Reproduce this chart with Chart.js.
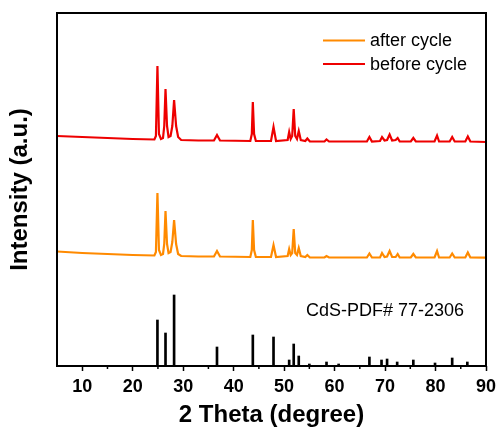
<!DOCTYPE html>
<html>
<head>
<meta charset="utf-8">
<script src="https://cdn.jsdelivr.net/npm/chart.js@4.4.0/dist/chart.umd.min.js"></script>
<style>
  html, body { margin: 0; padding: 0; background: #fff; }
  #wrap { width: 497px; height: 432px; position: relative; }
</style>
</head>
<body>
<div id="wrap"><canvas id="xrdChart"></canvas></div>
<script>
// x tick labels (2 Theta, degree)
const xTicks = [10, 20, 30, 40, 50, 60, 70, 80, 90];
const xMinorTicks = [15, 25, 35, 45, 55, 65, 75, 85];

// before cycle pattern, [2theta, intensity] (offset upwards)
const beforeCycle = [
    [5, 230], [10, 229], [15, 228], [20, 227], [24.3, 226.5], [24.6, 230], [24.9, 300], [25.2, 232],
    [25.6, 227], [26.0, 228], [26.25, 240], [26.5, 277], [26.8, 240], [27.1, 229], [27.5, 230],
    [27.85, 240], [28.2, 266], [28.6, 240], [29.0, 229], [29.6, 226], [33, 225.5], [36.1, 225.5],
    [36.7, 231], [37.3, 225.5], [43.3, 225], [43.6, 232], [43.8, 264], [44.05, 232], [44.4, 225],
    [47.4, 225], [47.9, 239], [48.4, 225], [50.7, 226], [51.0, 234], [51.3, 227], [51.6, 230],
    [51.9, 257], [52.2, 230], [52.55, 227], [52.9, 235], [53.3, 226], [54.2, 225], [54.6, 227.5],
    [55.1, 224.5], [58, 224.5], [58.4, 226.5], [58.9, 224.5], [66.4, 224.5], [66.9, 229], [67.4, 224.5],
    [69.0, 225], [69.4, 229], [69.9, 225.5], [70.4, 226], [70.9, 231.5], [71.4, 225.5], [72.1, 226],
    [72.5, 228], [72.9, 224.5], [75.1, 224.5], [75.6, 228], [76.1, 224.5], [79.8, 224.5], [80.3, 230.5],
    [80.7, 224.5], [82.8, 224.5], [83.3, 229], [83.8, 224.5], [85.9, 224.5], [86.4, 229.5], [86.9, 224.5],
    [90, 224]
];

// after cycle pattern
const afterCycle = [
    [5, 114.5], [10, 113], [15, 112], [20, 111], [24.3, 110.5], [24.6, 114], [24.9, 173], [25.2, 116],
    [25.6, 111], [26.0, 112], [26.25, 122], [26.5, 155], [26.8, 122], [27.1, 113], [27.5, 114],
    [27.85, 124], [28.2, 146], [28.6, 122], [29.0, 112], [29.6, 110], [33, 109.5], [36.1, 109.5],
    [36.7, 115], [37.3, 109.5], [43.3, 109], [43.6, 116], [43.8, 146], [44.05, 116], [44.4, 109],
    [47.4, 109], [47.9, 121], [48.4, 109], [50.7, 110], [51.0, 117], [51.3, 111], [51.6, 113],
    [51.9, 137], [52.2, 113], [52.55, 111], [52.9, 118], [53.3, 110], [54.2, 109], [54.6, 111],
    [55.1, 108.5], [58, 108.5], [58.4, 110], [58.9, 108.5], [66.4, 108.5], [66.9, 112.5], [67.4, 108.5],
    [69.0, 108.5], [69.4, 113], [69.9, 109], [70.4, 109.5], [70.9, 115], [71.4, 109], [72.1, 109],
    [72.5, 112], [72.9, 108.5], [75.1, 108.5], [75.6, 112], [76.1, 108.5], [79.8, 108.5], [80.3, 115],
    [80.7, 108.5], [82.8, 108.5], [83.3, 112.5], [83.8, 108.5], [85.9, 108.5], [86.4, 113.5], [86.9, 108.5],
    [90, 108.3]
];

// CdS reference card (PDF# 77-2306)
const pdfTheta = [24.9, 26.5, 28.2, 36.7, 43.8, 47.9, 51.0, 51.9, 52.9, 55.0, 58.4, 60.8, 66.9, 69.3, 70.4, 72.4, 75.6, 79.9, 83.3, 86.3];
const pdfIntensity = [46, 33, 71, 19, 31, 29, 6, 22, 10, 2, 4, 2, 9, 6, 7, 4, 6, 3, 8, 4];

const FONT = "'Liberation Sans', Arial, Helvetica, sans-serif";

const framePlugin = {
    id: 'frame',
    afterDraw(chart) {
        const { ctx, chartArea: a } = chart;
        const xs = chart.scales.x;
        ctx.save();
        // minor ticks
        ctx.strokeStyle = '#000';
        ctx.lineWidth = 1.5;
        xMinorTicks.forEach(v => {
            const px = xs.getPixelForValue(v);
            ctx.beginPath();
            ctx.moveTo(px, a.bottom);
            ctx.lineTo(px, a.bottom + 3);
            ctx.stroke();
        });
        // box
        ctx.lineWidth = 2;
        ctx.strokeRect(a.left, a.top, a.right - a.left, a.bottom - a.top);

        // legend
        ctx.font = '18px ' + FONT;
        ctx.textBaseline = 'middle';
        ctx.fillStyle = '#000';
        const rows = [chart.data.datasets[0], chart.data.datasets[1]];
        rows.forEach((ds, i) => {
            const y = 40.5 + i * 23.5;
            ctx.strokeStyle = ds.borderColor;
            ctx.lineWidth = 2;
            ctx.beginPath();
            ctx.moveTo(323, y);
            ctx.lineTo(365, y);
            ctx.stroke();
            ctx.fillText(ds.label, 370, y + 1);
        });

        // reference card label
        ctx.fillText('CdS-PDF# 77-2306', 306, 311);
        ctx.restore();
    }
};

new Chart(document.getElementById('xrdChart').getContext('2d'), {
    data: {
        datasets: [
            {
                type: 'line',
                label: 'after cycle',
                data: afterCycle.map(p => ({ x: p[0], y: p[1] })),
                borderColor: '#ff8a00',
                borderWidth: 2.2,
                pointRadius: 0,
                tension: 0
            },
            {
                type: 'line',
                label: 'before cycle',
                data: beforeCycle.map(p => ({ x: p[0], y: p[1] })),
                borderColor: '#ee0000',
                borderWidth: 2.2,
                pointRadius: 0,
                tension: 0
            },
            {
                type: 'bar',
                label: 'CdS-PDF# 77-2306',
                data: pdfTheta.map((t, i) => ({ x: t, y: pdfIntensity[i] })),
                backgroundColor: '#000',
                barThickness: 2
            }
        ]
    },
    options: {
        responsive: true,
        maintainAspectRatio: false,
        animation: false,
        layout: { padding: { top: 13, right: 11, left: 0, bottom: 0 } },
        plugins: {
            legend: { display: false },
            tooltip: { enabled: false }
        },
        scales: {
            x: {
                type: 'linear',
                min: 5,
                max: 90,
                offset: false,
                afterBuildTicks: s => { s.ticks = xTicks.map(v => ({ value: v })); },
                afterFit: s => { s.height = 66; s.paddingLeft = 0; s.paddingRight = 0; },
                border: { display: false },
                grid: { offset: false, drawOnChartArea: false, drawTicks: true, tickLength: 5, tickColor: '#000', tickWidth: 1.5 },
                ticks: { color: '#000', padding: 5, maxRotation: 0, font: { family: FONT, size: 18, weight: 'bold' } },
                title: { display: true, text: '2 Theta (degree)', color: '#000', padding: { top: 0, bottom: 2 }, font: { family: FONT, size: 24, weight: 'bold' } }
            },
            y: {
                min: 0,
                max: 353,
                afterFit: s => { s.width = 57; },
                border: { display: false },
                grid: { display: false },
                ticks: { display: false },
                title: { display: true, text: 'Intensity (a.u.)', color: '#000', padding: { top: 6, bottom: 0 }, font: { family: FONT, size: 24, weight: 'bold' } }
            }
        }
    },
    plugins: [framePlugin]
});
</script>
</body>
</html>
